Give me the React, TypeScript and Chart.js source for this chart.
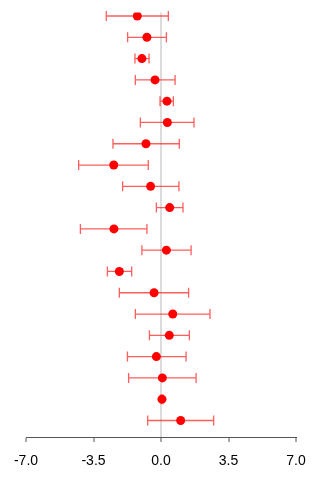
import React, { useEffect, useRef } from "react";
import { Chart, registerables } from "chart.js";

Chart.register(...registerables);

// Point estimates with lower / upper confidence limits, one per study row (top to bottom)
const estimates = [-1.23, -0.73, -0.99, -0.31, 0.31, 0.33, -0.78, -2.45, -0.54, 0.45, -2.44, 0.28, -2.16, -0.36, 0.61, 0.43, -0.24, 0.07, 0.05, 1.02];
const lowerCI = [-2.84, -1.73, -1.35, -1.33, -0.05, -1.07, -2.49, -4.27, -1.99, -0.24, -4.18, -0.99, -2.78, -2.16, -1.33, -0.6, -1.74, -1.68, 0.0, -0.69];
const upperCI = [0.38, 0.28, -0.62, 0.73, 0.64, 1.71, 0.95, -0.66, 0.93, 1.14, -0.73, 1.56, -1.52, 1.43, 2.54, 1.47, 1.3, 1.82, 0.1, 2.73];
const rowIndex = estimates.map((_, i) => i + 1);
const xTicks = [-7, -3.5, 0, 3.5, 7];

const errorBars = {
  id: "errorBars",
  beforeDatasetsDraw(chart: any) {
    const { ctx, scales } = chart;
    const xs = scales.x;
    const ys = scales.y;
    ctx.save();
    ctx.strokeStyle = "rgba(255, 40, 40, 0.75)";
    ctx.lineWidth = 1.3;
    const cap = 5;
    rowIndex.forEach((r, i) => {
      const y = ys.getPixelForValue(r);
      const x0 = xs.getPixelForValue(lowerCI[i]);
      const x1 = xs.getPixelForValue(upperCI[i]);
      ctx.beginPath();
      ctx.moveTo(x0, y);
      ctx.lineTo(x1, y);
      ctx.moveTo(x0, y - cap);
      ctx.lineTo(x0, y + cap);
      ctx.moveTo(x1, y - cap);
      ctx.lineTo(x1, y + cap);
      ctx.stroke();
    });
    ctx.restore();
  },
};

export default function App() {
  const canvasRef = useRef<HTMLCanvasElement>(null);

  useEffect(() => {
    if (!canvasRef.current) return;
    const chart = new Chart(canvasRef.current, {
      type: "scatter",
      data: {
        datasets: [
          {
            data: estimates.map((v, i) => ({ x: v, y: rowIndex[i] })),
            backgroundColor: "#ff0000",
            borderColor: "#ff0000",
            borderWidth: 0,
            pointRadius: 4.5,
          },
        ],
      },
      options: {
        animation: false,
        responsive: true,
        maintainAspectRatio: false,
        layout: { padding: { left: 18, right: 16, top: 0, bottom: 5 } },
        plugins: { legend: { display: false }, tooltip: { enabled: false } },
        scales: {
          x: {
            type: "linear",
            min: -7,
            max: 7,
            afterBuildTicks: (axis: any) => {
              axis.ticks = xTicks.map((v) => ({ value: v }));
            },
            afterFit: (axis: any) => {
              // fixed axis band; end labels may overhang into the outer padding
              axis.height = 30;
              axis.paddingLeft = 0;
              axis.paddingRight = 0;
            },
            ticks: {
              color: "#000",
              padding: 11,
              maxRotation: 0,
              font: { family: "'Liberation Sans', Arial, sans-serif", size: 14 },
              callback: (v: any) => Number(v).toFixed(1),
            },
            grid: {
              color: (c: any) => (c.tick && c.tick.value === 0 ? "#dcdcdc" : "rgba(0,0,0,0)"),
              lineWidth: 2,
              drawOnChartArea: true,
              drawTicks: true,
              tickColor: "#555",
              tickWidth: 1,
              tickLength: 5,
            },
            border: { display: true, color: "#555", width: 1 },
          },
          y: {
            type: "linear",
            reverse: true,
            min: 0.835,
            max: 20.776,
            display: false,
          },
        },
      },
      plugins: [errorBars],
    });
    return () => chart.destroy();
  }, []);

  return (
    <div style={{ width: 304, height: 464 }}>
      <canvas ref={canvasRef} />
    </div>
  );
}
